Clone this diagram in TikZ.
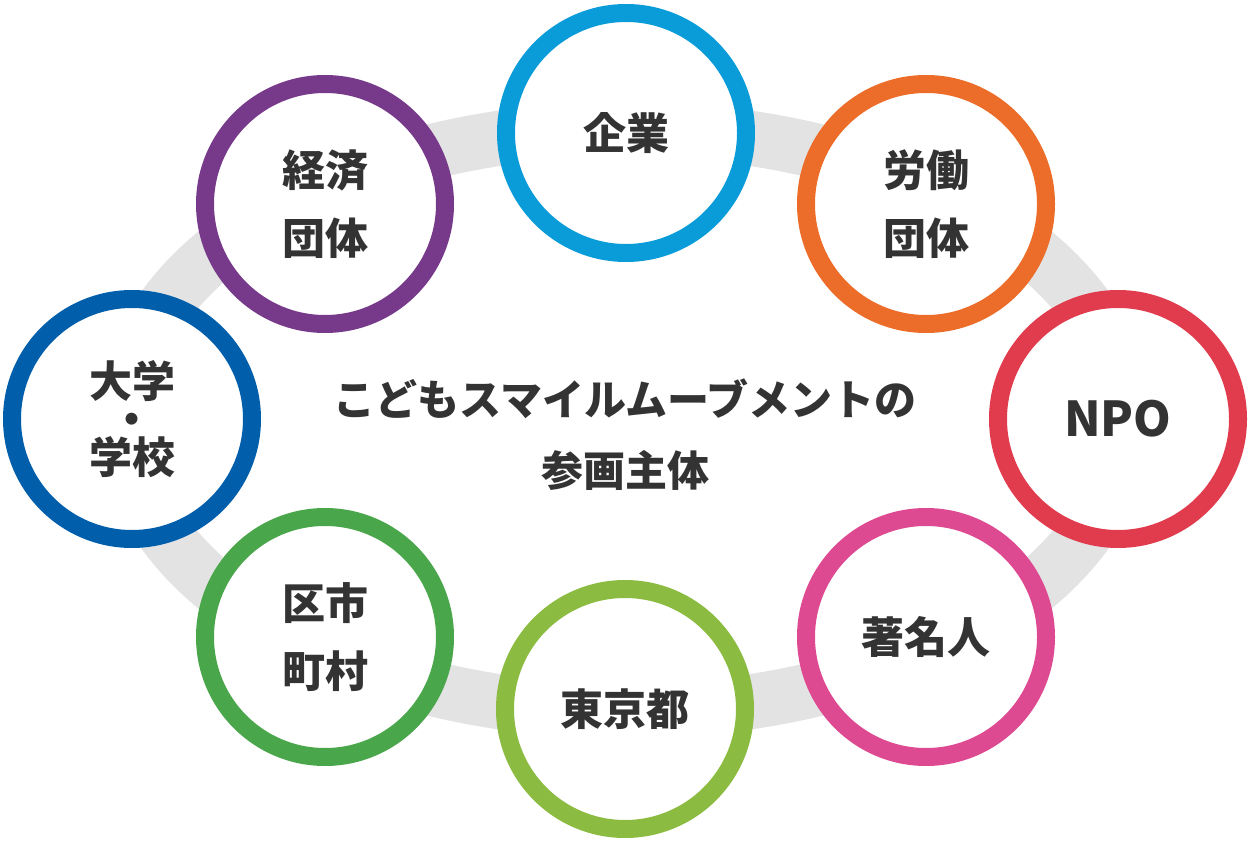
\documentclass[tikz,border=0pt]{standalone}
\usepackage{fontspec}
\newfontfamily\jp{Noto Sans CJK JP}
\definecolor{txt}{HTML}{333333}
\definecolor{band}{HTML}{E3E3E3}
\definecolor{cKigyo}{HTML}{0A9BD9}
\definecolor{cRodo}{HTML}{EC6D29}
\definecolor{cNPO}{HTML}{E03C4E}
\definecolor{cChomei}{HTML}{DE4A91}
\definecolor{cTokyo}{HTML}{8BBB40}
\definecolor{cKushi}{HTML}{4AA64A}
\definecolor{cDaigaku}{HTML}{005EAB}
\definecolor{cKeizai}{HTML}{773A8A}
\setlength{\lineskiplimit}{-100pt}
\begin{document}
\begin{tikzpicture}[x=1pt,y=-1pt,
  ring/.style={circle, draw=#1, line width=18pt, fill=white,
    minimum size=240pt, inner sep=0pt, text=txt, align=center,
    font=\jp\bfseries\fontsize{43pt}{68pt}\selectfont},
  bandline/.style={draw=band, line width=55pt}]
  \fill[white] (0,0) rectangle (1251,842);
  \useasboundingbox (0,0) rectangle (1251,842);
  \path[bandline] (625,420) ellipse [x radius=500, y radius=291];
  \node[ring=cKigyo] (kigyo) at (626,133) {企業};
  \node[ring=cRodo] (rodo) at (926,204) {労働\\団体};
  \node[ring=cNPO, font=\jp\bfseries\fontsize{48pt}{48pt}\selectfont] (npo) at (1118,419) {NPO};
  \node[ring=cChomei] (chomei) at (926,637) {著名人};
  \node[ring=cTokyo] (tokyo) at (625,709) {東京都};
  \node[ring=cKushi] (kushi) at (325,637) {区市\\町村};
  \node[ring=cDaigaku, font=\jp\bfseries\fontsize{43pt}{38pt}\selectfont] (daigaku) at (132,419) {大学\\・\\学校};
  \node[ring=cKeizai] (keizai) at (325,204) {経済\\団体};
  \node[text=txt, align=center, font=\jp\bfseries\fontsize{42pt}{71pt}\selectfont] (title) at (625,435) {こどもスマイルムーブメントの\\参画主体};
\end{tikzpicture}
\end{document}
